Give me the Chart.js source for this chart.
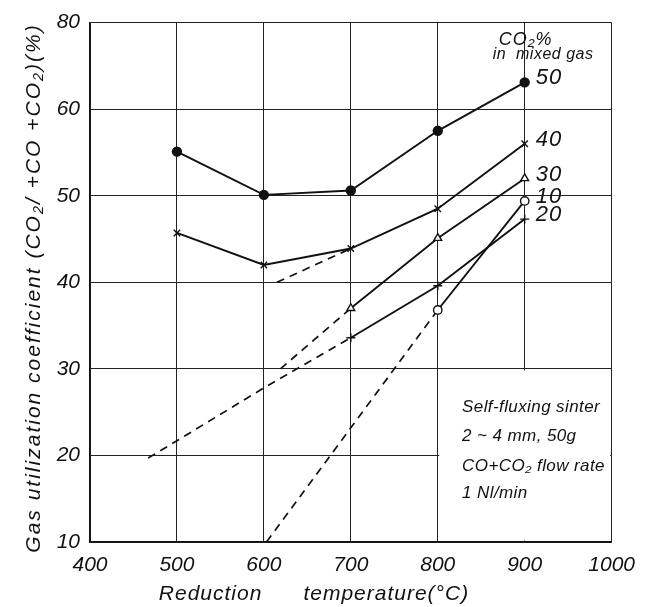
<!DOCTYPE html>
<html><head><meta charset="utf-8">
<script src="https://cdn.jsdelivr.net/npm/chart.js@4/dist/chart.umd.min.js"></script>
<style>html,body{margin:0;padding:0;background:#fff}#wrap{width:646px;height:607px}</style>
</head><body><div id="wrap"><canvas id="c" width="646" height="607"></canvas></div>
<script>
// ---- data ----
const temps = [500, 600, 700, 800, 900];
const co2_50 = [55.1, 50.1, 50.6, 57.5, 63.1];
const co2_40 = [45.7, 42.0, 43.9, 48.5, 56.0];
const co2_30 = [null, null, 37.0, 45.1, 52.0];
const co2_20 = [null, null, 33.6, 39.6, 47.3];
const co2_10 = [null, null, null, 36.8, 49.4];
// dashed extrapolations
const dash40T = [615, 700];       const dash40V = [40.0, 43.9];
const dash30T = [619, 700];       const dash30V = [30.0, 37.0];
const dash20T = [467, 500, 600, 700]; const dash20V = [19.7, 21.7, 27.8, 33.6];
const dash10T = [603, 800];       const dash10V = [10.0, 36.8];
// tick labels
const xTicks = [400, 500, 600, 700, 800, 900, 1000];
const yTicks = [10, 20, 30, 40, 50, 60, 70];
const yTickLabels = ['10', '20', '30', '40', '50', '60', '80'];
const seriesNames = ['50', '40', '30', '10', '20'];
const headerLines = ['CO₂%', 'in  mixed gas'];
const noteLines = ['Self-fluxing sinter', '2 ~ 4 mm, 50g', 'CO+CO₂ flow rate', '1 Nl/min'];
const xTitle = 'Reduction      temperature(°C)';
const yTitle = 'Gas utilization coefficient (CO₂/ +CO +CO₂)(%)';

const FONT = "'Liberation Sans', Arial, sans-serif";
const pts = (xs, ys) => xs.map((t, i) => ({x: t, y: ys[i]})).filter(p => p.y !== null);

function solid(vals, style, fill, r) {
  return {data: pts(temps, vals), borderColor: '#111', borderWidth: 1.9, showLine: true,
    pointStyle: style, pointRadius: r, pointBorderColor: '#111', pointBackgroundColor: fill,
    pointBorderWidth: 1.4, tension: 0};
}
function dashed(xs, ys) {
  return {data: pts(xs, ys), borderColor: '#111', borderWidth: 1.7, showLine: true,
    borderDash: [8, 6], pointRadius: 0, tension: 0};
}

const annot = {
  id: 'annot',
  beforeDatasetsDraw(chart) {
    const {ctx, scales: {x, y}} = chart;
    ctx.save(); ctx.fillStyle = '#fff';
    const x0 = x.getPixelForValue(800) + 1.5, x1 = x.getPixelForValue(1000) - 1.5;
    const y0 = y.getPixelForValue(30) + 1.5, y1 = y.getPixelForValue(10) - 1.5;
    ctx.fillRect(x0, y0, x1 - x0, y1 - y0);
    ctx.restore();
  },
  afterDraw(chart) {
    const {ctx, scales: {x, y}} = chart;
    ctx.save();
    ctx.fillStyle = '#111';
    ctx.textBaseline = 'middle';
    // series labels
    const lastVals = [co2_50[4], co2_40[4], co2_30[4], co2_10[4], co2_20[4]];
    ctx.font = 'italic 22px ' + FONT; ctx.textAlign = 'left';
    ctx.letterSpacing = '1px';
    const xl = x.getPixelForValue(900) + 11;
    lastVals.forEach((v, i) => ctx.fillText(seriesNames[i], xl, y.getPixelForValue(v) - 4));
    // header
    ctx.font = 'italic 18px ' + FONT;
    ctx.fillText(headerLines[0], x.getPixelForValue(900) - 26, y.getPixelForValue(68.0));
    ctx.font = 'italic 16px ' + FONT;
    ctx.letterSpacing = '0.5px';
    ctx.fillText(headerLines[1], x.getPixelForValue(900) - 32, y.getPixelForValue(66.3));
    // note
    ctx.font = 'italic 17px ' + FONT;
    ctx.letterSpacing = '0.4px';
    const nx = x.getPixelForValue(828);
    const ny = [25.6, 22.2, 18.7, 15.6];
    noteLines.forEach((s, i) => ctx.fillText(s, nx, y.getPixelForValue(ny[i])));
    // axis titles
    ctx.font = 'italic 21px ' + FONT; ctx.textAlign = 'center';
    ctx.letterSpacing = '1px';
    ctx.fillText(xTitle, 314, 594);
    ctx.letterSpacing = '2px';
    ctx.translate(34, 288); ctx.rotate(-Math.PI / 2);
    ctx.fillText(yTitle, 0, 0);
    ctx.restore();
  }
};

new Chart(document.getElementById('c'), {
  type: 'scatter',
  data: {datasets: [
    solid(co2_50, 'circle', '#111', 4.5),
    solid(co2_40, 'crossRot', '#111', 4.5),
    solid(co2_30, 'triangle', '#fff', 4.5),
    solid(co2_20, 'cross', '#111', 4.5),
    solid(co2_10, 'circle', '#fff', 4.2),
    dashed(dash40T, dash40V), dashed(dash30T, dash30V),
    dashed(dash20T, dash20V), dashed(dash10T, dash10V)
  ]},
  options: {
    responsive: false, devicePixelRatio: 1, animation: false,
    layout: {padding: {top: 18, right: 27, left: 0, bottom: 0}},
    plugins: {legend: {display: false}, tooltip: {enabled: false}},
    scales: {
      x: {type: 'linear', min: 400, max: 1000,
        afterBuildTicks: s => { s.ticks = xTicks.map(v => ({value: v})); },
        afterFit: s => { s.height = 65; },
        grid: {color: '#222', lineWidth: 1, drawTicks: false},
        border: {color: '#111', width: 1.5},
        ticks: {padding: 11, color: '#111', font: {family: FONT, size: 21, style: 'italic'},
          callback: v => String(v)}},
      y: {type: 'linear', min: 10, max: 70,
        afterBuildTicks: s => { s.ticks = yTicks.map(v => ({value: v})); },
        afterFit: s => { s.width = 90; },
        grid: {color: '#222', lineWidth: 1, drawTicks: false},
        border: {color: '#111', width: 1.5},
        ticks: {padding: 10, color: '#111', font: {family: FONT, size: 21, style: 'italic'},
          callback: v => yTickLabels[yTicks.indexOf(v)]}}
    }
  },
  plugins: [annot]
});
</script></body></html>
